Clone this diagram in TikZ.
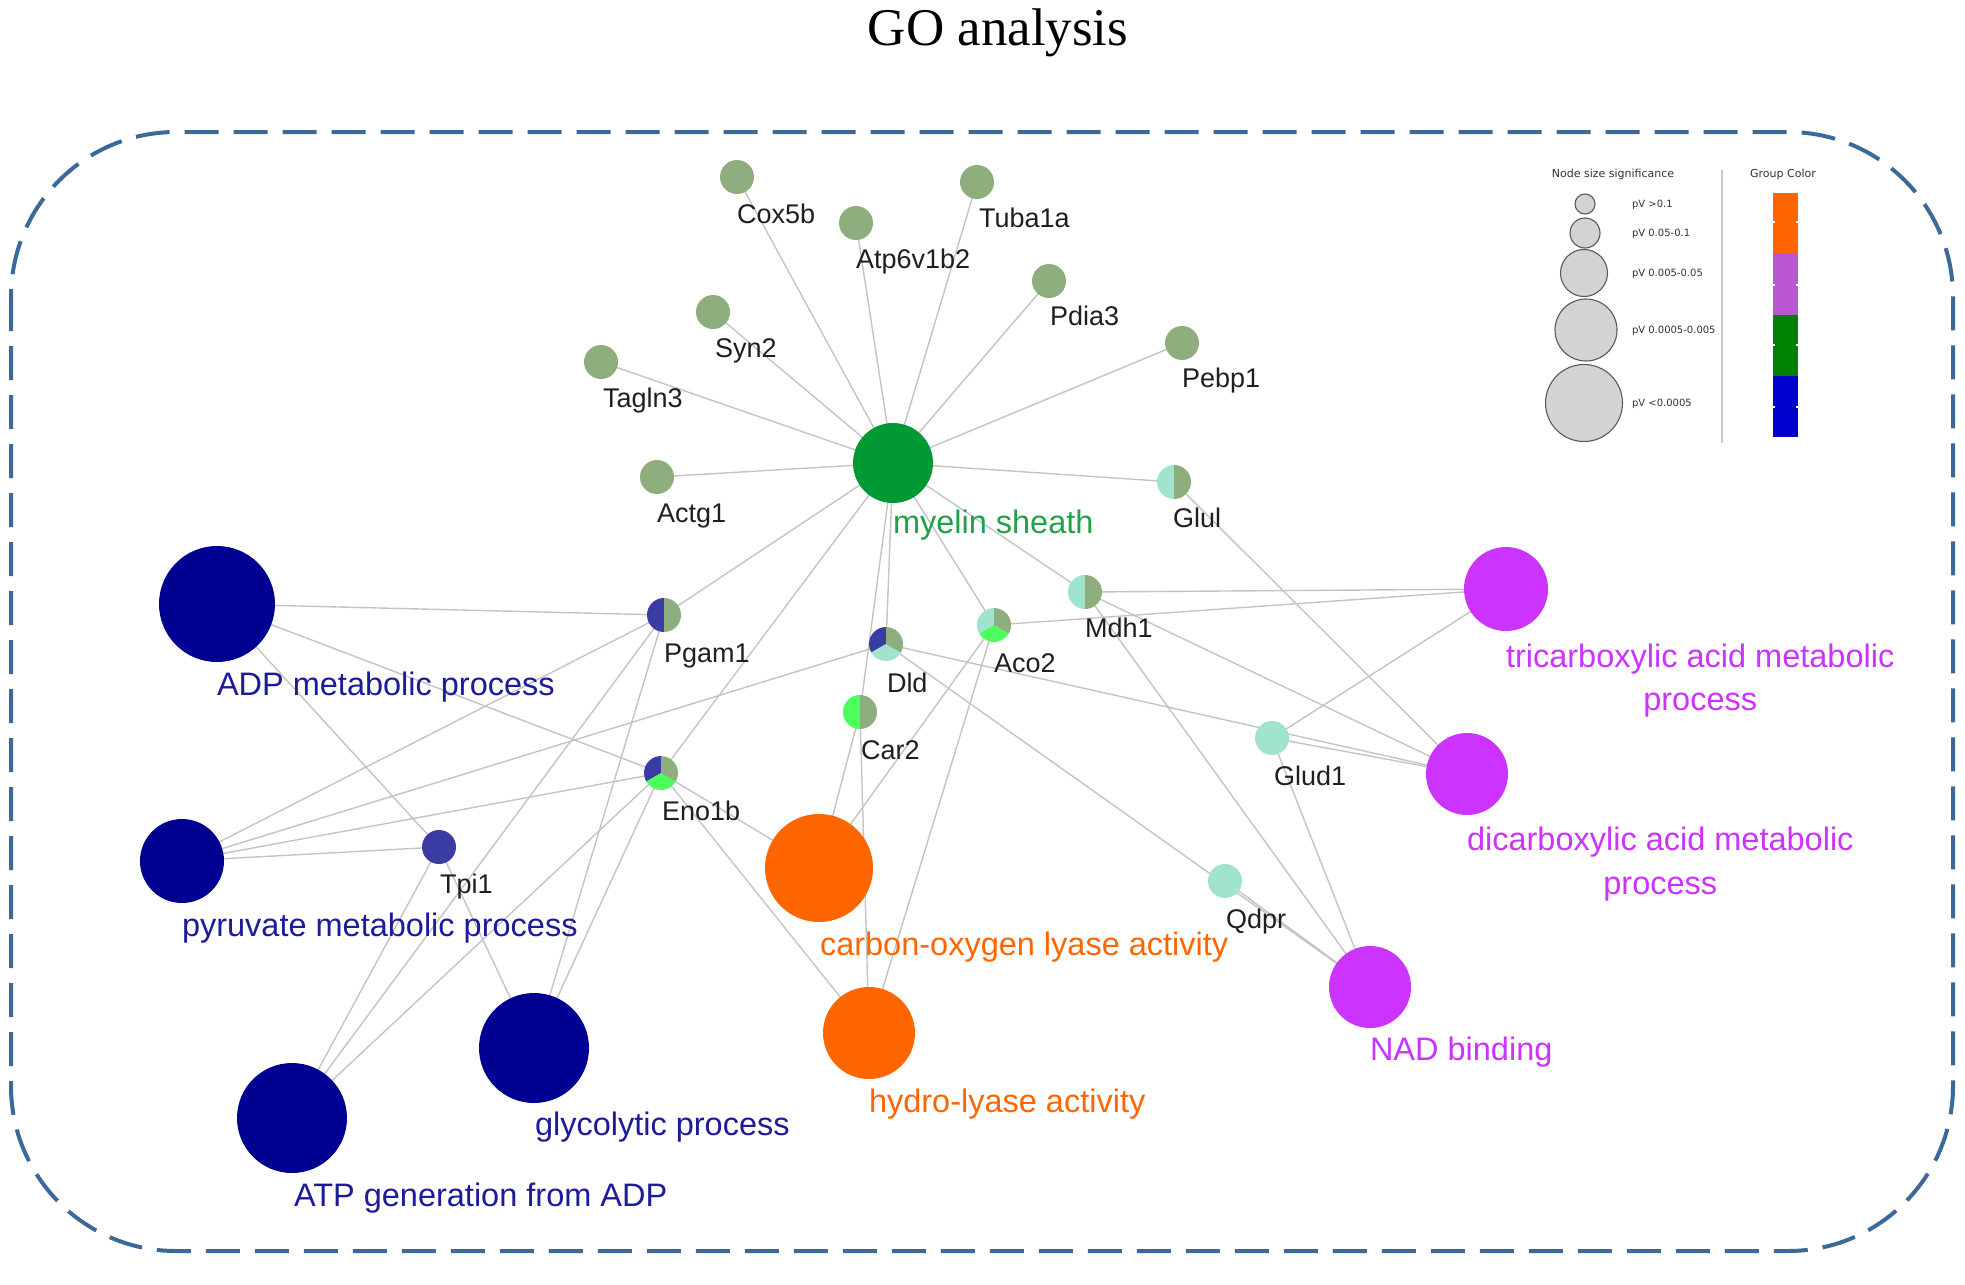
\documentclass[tikz,border=0pt]{standalone}
\usepackage{fontspec}
\setmainfont{Liberation Sans}
\newfontfamily\titlefont{Liberation Serif}
\newfontfamily\legfont{DejaVu Sans}
\usetikzlibrary{backgrounds}
\definecolor{sage}{HTML}{8FAE7D}
\definecolor{lteal}{HTML}{A0E3CF}
\definecolor{bgreen}{HTML}{4CFF5C}
\definecolor{pblue}{HTML}{3A3CA4}
\definecolor{navy}{HTML}{000091}
\definecolor{navytext}{HTML}{1C1C9A}
\definecolor{msgreen}{HTML}{009933}
\definecolor{mstext}{HTML}{21A249}
\definecolor{orng}{HTML}{FF6600}
\definecolor{mgnta}{HTML}{CC33FF}
\definecolor{edgec}{HTML}{C4C4C4}
\definecolor{framec}{HTML}{3A6A9A}
\definecolor{legtext}{HTML}{333333}
\definecolor{legcirc}{HTML}{D3D3D3}
\definecolor{legpurple}{HTML}{BA55D3}
\definecolor{leggreen}{HTML}{008000}
\definecolor{legblue}{HTML}{0000CD}
\newcommand{\pslice}[4]{\fill[#4] (#1.center) -- ++(#2:17pt) arc[start angle=#2, end angle=#3, radius=17pt] -- cycle;}
\begin{document}
\begin{tikzpicture}[x=1pt,y=1pt,
  gene/.style={circle, minimum size=34pt, inner sep=0pt, outer sep=0pt},
  term/.style={circle, inner sep=0pt, outer sep=0pt},
  glab/.style={anchor=base west, inner sep=0pt, outer sep=0pt, font=\fontsize{27}{30}\selectfont, text=black!88},
  tlab/.style={anchor=base west, inner sep=0pt, outer sep=0pt, font=\fontsize{32.5}{36}\selectfont},
  edge/.style={draw=edgec, line width=1.4pt},
  legc/.style={circle, inner sep=0pt, outer sep=0pt, fill=legcirc, draw=black!65, line width=1.1pt},
  legt/.style={anchor=base west, inner sep=0pt, outer sep=0pt, font=\legfont\fontsize{10}{12}\selectfont, text=legtext},
  legh/.style={anchor=base, inner sep=0pt, outer sep=0pt, font=\legfont\fontsize{11}{13}\selectfont, text=legtext}]

\useasboundingbox (0,0) rectangle (1965,-1285);

% title
\node[anchor=base, inner sep=0pt, font=\titlefont\fontsize{53}{60}\selectfont] (title) at (998,-45) {GO analysis};

% frame
\draw[framec, line width=4pt, dash pattern=on 34pt off 15pt, rounded corners=165pt] (11,-132) rectangle (1953,-1251);

% gene nodes
\node[gene, fill=sage] (cox) at (737,-177) {};
\node[gene, fill=sage] (atp) at (856,-223) {};
\node[gene, fill=sage] (tuba) at (977,-182) {};
\node[gene, fill=sage] (pdia) at (1049,-281) {};
\node[gene, fill=sage] (pebp) at (1182,-343) {};
\node[gene, fill=sage] (syn) at (713,-312) {};
\node[gene, fill=sage] (tagln) at (601,-362) {};
\node[gene, fill=sage] (actg) at (657,-477) {};
\node[gene] (glul) at (1174,-482) {};
\node[gene] (pgam) at (664,-615) {};
\node[gene] (dld) at (886,-644) {};
\node[gene] (aco) at (994,-625) {};
\node[gene] (mdh) at (1085,-592) {};
\node[gene] (car) at (860,-712) {};
\node[gene] (eno) at (661,-773) {};
\node[gene, fill=pblue] (tpi) at (439,-847) {};
\node[gene, fill=lteal] (glud) at (1272,-738) {};
\node[gene, fill=lteal] (qdpr) at (1225,-881) {};

% pies
\pslice{glul}{90}{270}{lteal}\pslice{glul}{-90}{90}{sage}
\pslice{mdh}{90}{270}{lteal}\pslice{mdh}{-90}{90}{sage}
\pslice{pgam}{90}{270}{pblue}\pslice{pgam}{-90}{90}{sage}
\pslice{car}{90}{270}{bgreen}\pslice{car}{-90}{90}{sage}
\pslice{dld}{90}{210}{pblue}\pslice{dld}{210}{330}{lteal}\pslice{dld}{-30}{90}{sage}
\pslice{aco}{90}{210}{lteal}\pslice{aco}{210}{330}{bgreen}\pslice{aco}{-30}{90}{sage}
\pslice{eno}{90}{210}{pblue}\pslice{eno}{210}{330}{bgreen}\pslice{eno}{-30}{90}{sage}

% term nodes
\node[term, minimum size=80pt, fill=msgreen] (ms) at (893,-463) {};
\node[term, minimum size=116pt, fill=navy] (adp) at (217,-604) {};
\node[term, minimum size=84pt, fill=navy] (pyr) at (182,-861) {};
\node[term, minimum size=110pt, fill=navy] (gly) at (534,-1048) {};
\node[term, minimum size=110pt, fill=navy] (atpg) at (292,-1118) {};
\node[term, minimum size=108pt, fill=orng] (co) at (819,-868) {};
\node[term, minimum size=92pt, fill=orng] (hl) at (869,-1033) {};
\node[term, minimum size=84pt, fill=mgnta] (tca) at (1506,-589) {};
\node[term, minimum size=82pt, fill=mgnta] (dca) at (1467,-774) {};
\node[term, minimum size=82pt, fill=mgnta] (nad) at (1370,-987) {};

% edges
\begin{scope}[on background layer]
\fill[white] (0,0) rectangle (1965,-1285);
\foreach \a/\b in {ms/cox, ms/atp, ms/tuba, ms/pdia, ms/pebp, ms/syn, ms/tagln, ms/actg, ms/glul,
  ms/pgam, ms/eno, ms/dld, ms/car, ms/aco, ms/mdh,
  adp/pgam, adp/eno, adp/tpi,
  pyr/pgam, pyr/eno, pyr/tpi, pyr/dld,
  gly/tpi, gly/pgam, gly/eno,
  atpg/tpi, atpg/pgam, atpg/eno,
  co/eno, co/car, co/aco,
  hl/eno, hl/car, hl/aco,
  tca/mdh, tca/aco, tca/glud,
  dca/glul, dca/mdh, dca/dld, dca/glud,
  nad/mdh, nad/dld, nad/glud, nad/qdpr}
  \draw[edge] (\a.center) -- (\b.center);
\end{scope}

% gene labels
\node[glab] (lcox) at (737,-223) {Cox5b};
\node[glab] (latp) at (856,-268) {Atp6v1b2};
\node[glab] (ltuba) at (979,-227) {Tuba1a};
\node[glab] (lpdia) at (1050,-325) {Pdia3};
\node[glab] (lpebp) at (1182,-387) {Pebp1};
\node[glab] (lsyn) at (715,-357) {Syn2};
\node[glab] (ltagln) at (603,-407) {Tagln3};
\node[glab] (lactg) at (657,-522) {Actg1};
\node[glab] (lglul) at (1173,-527) {Glul};
\node[glab] (lpgam) at (664,-662) {Pgam1};
\node[glab] (ldld) at (887,-692) {Dld};
\node[glab] (laco) at (994,-672) {Aco2};
\node[glab] (lmdh) at (1085,-637) {Mdh1};
\node[glab] (lcar) at (861,-759) {Car2};
\node[glab] (leno) at (662,-820) {Eno1b};
\node[glab] (ltpi) at (440,-893) {Tpi1};
\node[glab] (lglud) at (1274,-785) {Glud1};
\node[glab] (lqdpr) at (1226,-928) {Qdpr};

% term labels
\node[tlab, text=mstext] (lms) at (893,-533) {myelin sheath};
\node[tlab, text=navytext] (ladp) at (217,-695) {ADP metabolic process};
\node[tlab, text=navytext] (lpyr) at (182,-936) {pyruvate metabolic process};
\node[tlab, text=navytext] (lgly) at (535,-1135) {glycolytic process};
\node[tlab, text=navytext] (latpg) at (294,-1206) {ATP generation from ADP};
\node[tlab, text=orng] (lco) at (820,-955) {carbon-oxygen lyase activity};
\node[tlab, text=orng] (lhl) at (869,-1112) {hydro-lyase activity};
\node[tlab, text=mgnta] (ltca) at (1506,-667) {tricarboxylic acid metabolic};
\node[tlab, text=mgnta, anchor=base] (ltcb) at ([yshift=-43pt]ltca.base) {process};
\node[tlab, text=mgnta] (ldca) at (1467,-850) {dicarboxylic acid metabolic};
\node[tlab, text=mgnta, anchor=base] (ldcb) at ([yshift=-44pt]ldca.base) {process};
\node[tlab, text=mgnta] (lnad) at (1370,-1060) {NAD binding};

% legend
\node[legh] (lhead1) at (1613,-177) {Node size significance};
\node[legh] (lhead2) at (1783,-177) {Group Color};
\node[legc, minimum size=20pt] (c1) at (1585,-204) {};
\node[legc, minimum size=30pt] (c2) at (1585,-233) {};
\node[legc, minimum size=47pt] (c3) at (1584,-273) {};
\node[legc, minimum size=62pt] (c4) at (1586,-330) {};
\node[legc, minimum size=77pt] (c5) at (1584,-403) {};
\node[legt] (t1) at (1632,-207.5) {pV >0.1};
\node[legt] (t2) at (1632,-236.5) {pV 0.05-0.1};
\node[legt] (t3) at (1632,-276.5) {pV 0.005-0.05};
\node[legt] (t4) at (1632,-333.5) {pV 0.0005-0.005};
\node[legt] (t5) at (1632,-406.5) {pV <0.0005};
\draw[black!22, line width=1.5pt] (1722,-170) -- (1722,-443);
\fill[orng] (1773,-193) rectangle (1798,-253);
\fill[legpurple] (1773,-253) rectangle (1798,-315);
\fill[leggreen] (1773,-315) rectangle (1798,-376);
\fill[legblue] (1773,-376) rectangle (1798,-437);
\foreach \yy in {222,285,345,407}{
  \fill[white] (1773,-\yy+1) rectangle (1775,-\yy-1);
  \fill[white] (1796,-\yy+1) rectangle (1798,-\yy-1);
}
\end{tikzpicture}
\end{document}
